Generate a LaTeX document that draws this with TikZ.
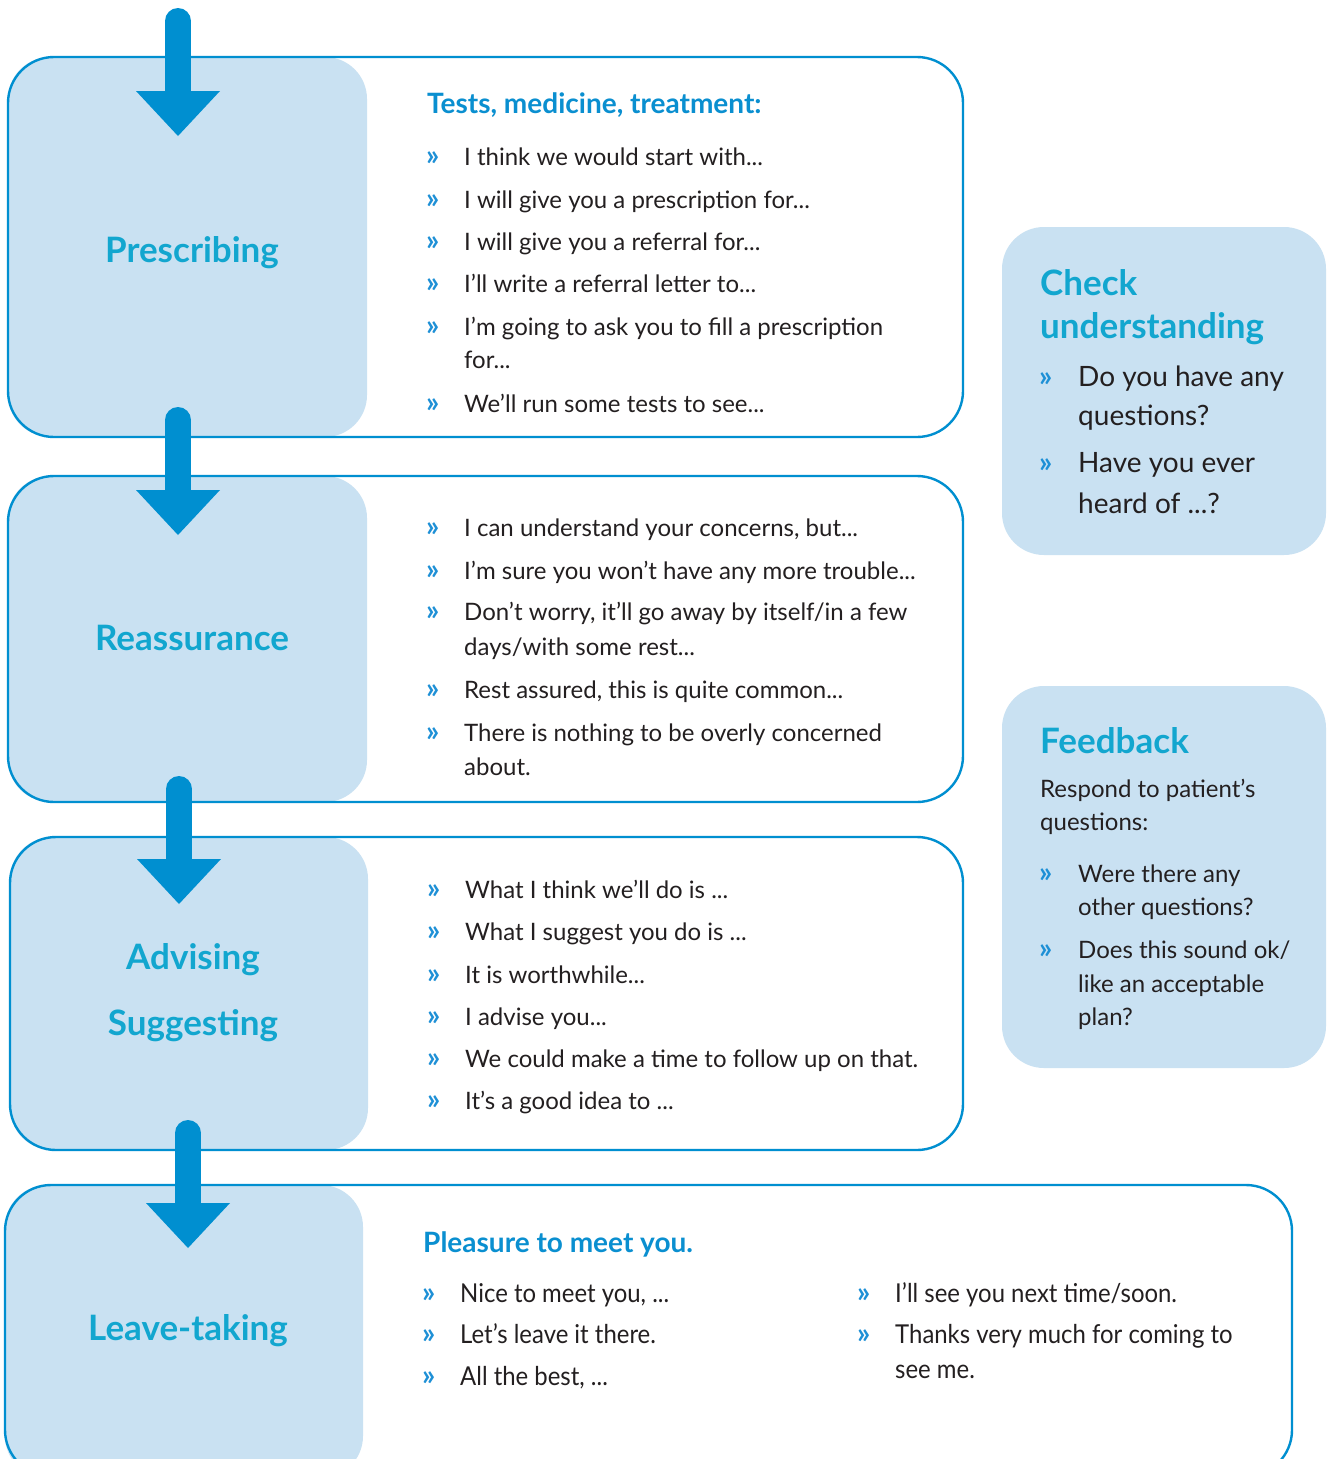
\documentclass[tikz,border=0pt]{standalone}
\usepackage{fontspec}
\usetikzlibrary{calc}
\setmainfont{Lato}
\newfontfamily\condfont[FakeStretch=0.92]{Lato}
\definecolor{panelblue}{HTML}{C9E1F2}
\definecolor{lineblue}{HTML}{008FD0}
\definecolor{titlecyan}{HTML}{12A6CF}
\definecolor{headblue}{HTML}{0A8FD0}
\definecolor{bulblue}{HTML}{1E90D6}
\definecolor{textdark}{HTML}{231F20}
\tikzset{
  panel/.style={fill=panelblue, rounded corners=42pt},
  frame/.style={draw=lineblue, line width=2.4pt, rounded corners=46pt},
  shaft/.style={draw=lineblue, line width=26pt, line cap=round},
  head/.style={fill=lineblue},
  bul/.style={anchor=base west, inner sep=0pt, text=bulblue, font=\bfseries\fontsize{29}{30}\selectfont},
  item/.style={anchor=base west, inner sep=0pt, text=textdark, font=\fontsize{24}{30}\selectfont},
  bigitem/.style={anchor=base west, inner sep=0pt, text=textdark, font=\fontsize{28}{32}\selectfont},
  conditem/.style={anchor=base west, inner sep=0pt, text=textdark, font=\condfont\fontsize{26}{30}\selectfont},
  ptitle/.style={anchor=base, inner sep=0pt, text=titlecyan, font=\bfseries\fontsize{35}{40}\selectfont},
  stitle/.style={anchor=base west, inner sep=0pt, text=titlecyan, font=\bfseries\fontsize{35}{40}\selectfont},
  heading/.style={anchor=base west, inner sep=0pt, text=headblue, font=\bfseries\fontsize{28}{30}\selectfont},
  condheading/.style={anchor=base west, inner sep=0pt, text=headblue, font=\bfseries\fontsize{28}{30}\selectfont},
}
\begin{document}
\begin{tikzpicture}[x=1pt,y=-1pt]
\useasboundingbox (0,0) rectangle (1331,1459);
\fill[white] (0,0) rectangle (1331,1459);

% ---------- panels (filled) ----------
\fill[panel] (8,57) rectangle (367,437);
\fill[panel] (8,476) rectangle (367,802);
\fill[panel] (10,837) rectangle (368,1150);
\fill[panel] (5,1185) rectangle (363,1478);
\fill[panel] (1002,227) rectangle (1326,555);
\fill[panel] (1002,686) rectangle (1326,1068);

% ---------- frames ----------
\draw[frame] (8,57) rectangle (963,437);
\draw[frame] (8,476) rectangle (963,802);
\draw[frame] (10,837) rectangle (963,1150);
\draw[frame] (5,1185) rectangle (1292,1476);

% ---------- arrows ----------
\coordinate (a1s) at (178,21);  \coordinate (a1e) at (178,92);
\coordinate (a2s) at (178,420); \coordinate (a2e) at (178,491);
\coordinate (a3s) at (179,789); \coordinate (a3e) at (179,860);
\coordinate (a4s) at (188,1133);\coordinate (a4e) at (188,1204);
\foreach \s/\e in {a1s/a1e,a2s/a2e,a3s/a3e,a4s/a4e}{
  \draw[shaft] (\s) -- (\e);
  \fill[head] ($(\e)+(-42,-1)$) -- ($(\e)+(42,-1)$) -- ($(\e)+(0,44)$) -- cycle;
}

% ---------- left titles ----------
\node[ptitle] (t1) at (192,262) {Prescribing};
\node[ptitle] (t2) at (192,650) {Reassurance};
\node[ptitle] (t3a) at (193,969) {Advising};
\node[ptitle] (t3b) at (193,1035) {Suggesting};
\node[ptitle] (t4) at (188,1340) {Leave-taking};

% ---------- box 1 ----------
\node[heading] (h1) at (427,113) {Tests, medicine, treatment:};
\foreach \y/\t [count=\i] in {165/{I think we would start with...},
  208/{I will give you a prescription for...},
  250/{I will give you a referral for...},
  292/{I’ll write a referral letter to...},
  335/{I’m going to ask you to fill a prescription},
  412/{We’ll run some tests to see...}}{
  \node[bul] (b1\i) at (426,\y) {»};
  \node[item] (i1\i) at (464,\y) {\t};
}
\node[item] (i1c) at (464,368) {for...};

% ---------- box 2 ----------
\foreach \y/\t [count=\i] in {536/{I can understand your concerns, but...},
  579/{I’m sure you won’t have any more trouble...},
  620/{Don’t worry, it’ll go away by itself/in a few},
  698/{Rest assured, this is quite common...},
  741/{There is nothing to be overly concerned}}{
  \node[bul] (b2\i) at (426,\y) {»};
  \node[item] (i2\i) at (464,\y) {\t};
}
\node[item] (i2c) at (464,655) {days/with some rest...};
\node[item] (i2d) at (464,775) {about.};

% ---------- box 3 ----------
\foreach \y/\t [count=\i] in {898/{What I think we’ll do is ...},
  940/{What I suggest you do is ...},
  983/{It is worthwhile...},
  1025/{I advise you...},
  1067/{We could make a time to follow up on that.},
  1109/{It’s a good idea to ...}}{
  \node[bul] (b3\i) at (427,\y) {»};
  \node[item] (i3\i) at (465,\y) {\t};
}

% ---------- box 4 ----------
\node[condheading] (h4) at (423,1252) {Pleasure to meet you.};
\foreach \y/\t [count=\i] in {1302/{Nice to meet you, ...},
  1343/{Let’s leave it there.},
  1385/{All the best, ...}}{
  \node[bul] (b4\i) at (422,\y) {»};
  \node[conditem] (i4\i) at (460,\y) {\t};
}
\foreach \y/\t [count=\i] in {1302/{I’ll see you next time/soon.},
  1343/{Thanks very much for coming to}}{
  \node[bul] (b5\i) at (857,\y) {»};
  \node[conditem] (i5\i) at (895,\y) {\t};
}
\node[conditem] (i5c) at (895,1378) {see me.};

% ---------- check understanding ----------
\node[stitle] (cu1) at (1040,295) {Check};
\node[stitle] (cu2) at (1040,338) {understanding};
\node[bul] (cb1) at (1039,386) {»};
\node[bigitem] (ci1) at (1078,386) {Do you have any};
\node[bigitem] (ci1b) at (1078,425) {questions?};
\node[bul] (cb2) at (1039,472) {»};
\node[bigitem] (ci2) at (1078,472) {Have you ever};
\node[bigitem] (ci2b) at (1078,513) {heard of ...?};

% ---------- feedback ----------
\node[stitle] (fb) at (1040,753) {Feedback};
\node[item] (fr1) at (1040,797) {Respond to patient’s};
\node[item] (fr2) at (1040,830) {questions:};
\node[bul] (fb1) at (1039,882) {»};
\node[item] (fi1) at (1078,882) {Were there any};
\node[item] (fi1b) at (1078,915) {other questions?};
\node[bul] (fb2) at (1039,958) {»};
\node[item] (fi2) at (1078,958) {Does this sound ok/};
\node[item] (fi2b) at (1078,992) {like an acceptable};
\node[item] (fi2c) at (1078,1025) {plan?};
\end{tikzpicture}
\end{document}
